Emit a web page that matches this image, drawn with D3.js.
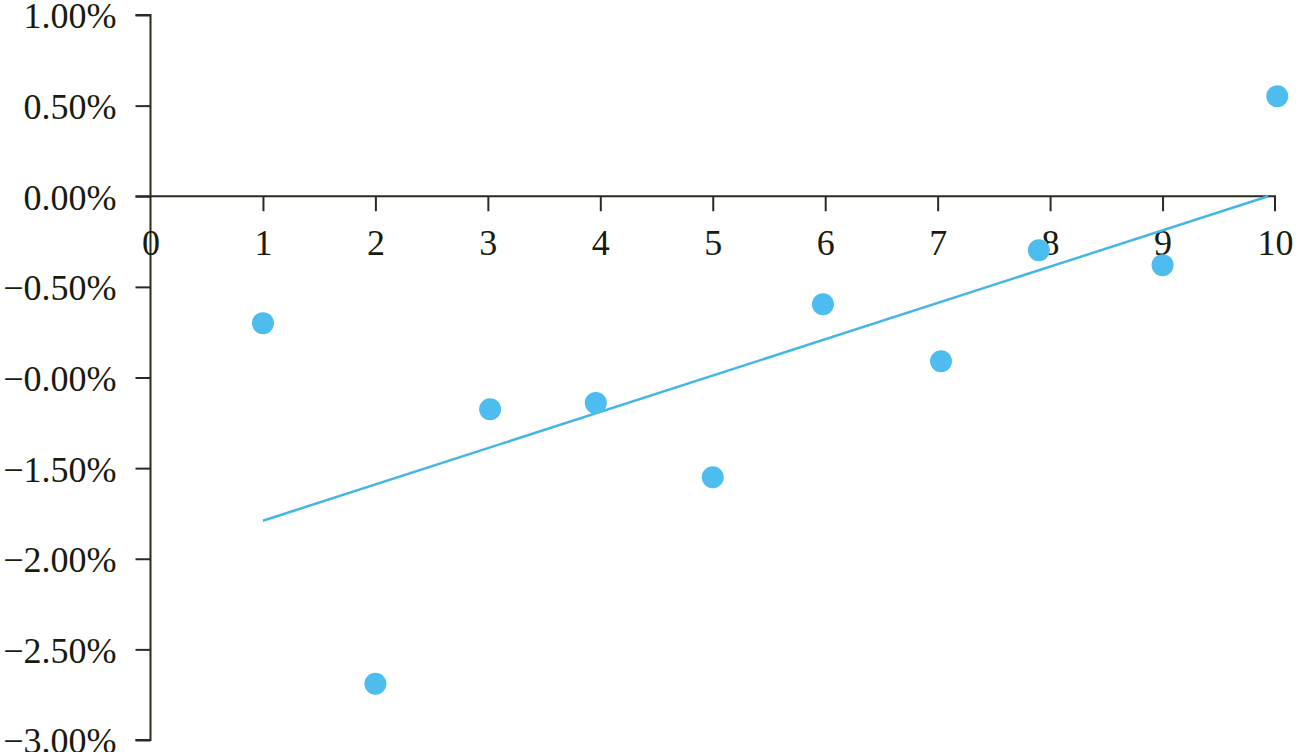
<!DOCTYPE html>
<html>
<head>
<meta charset="utf-8">
<script src="https://cdn.jsdelivr.net/npm/d3@7/dist/d3.min.js"></script>
<style>
  html, body { margin: 0; padding: 0; background: #ffffff; }
  svg { display: block; }
</style>
</head>
<body>
<svg id="chart" width="1296" height="752"></svg>
<script>
// ---- data ----
const xValues = [1, 2, 3.02, 3.96, 5, 5.98, 7.03, 7.9, 9, 10.02];
const yValues = [-0.70, -2.69, -1.175, -1.14, -1.55, -0.596, -0.91, -0.298, -0.38, 0.552];
const trendX = [1, 9.94];
const trendY = [-1.79, 0.0];
const xTicks = [0, 1, 2, 3, 4, 5, 6, 7, 8, 9, 10];
const xTickLabels = ["0", "1", "2", "3", "4", "5", "6", "7", "8", "9", "10"];
const yTicks = [1.0, 0.5, 0.0, -0.5, -1.0, -1.5, -2.0, -2.5, -3.0];
const yTickLabels = ["1.00%", "0.50%", "0.00%", "\u22120.50%", "\u22120.00%", "\u22121.50%", "\u22122.00%", "\u22122.50%", "\u22123.00%"];

// ---- layout ----
const svg = d3.select("#chart");
const axisColor = "#2b2b1d";
const textColor = "#1a1a0e";
const pointColor = "#4dbcee";
const lineColor = "#45b6e4";
const fontFamily = "'Liberation Serif', 'Times New Roman', serif";

const x = d3.scaleLinear().domain([0, 10]).range([150.5, 1275]);
const y = d3.scaleLinear().domain([-3, 1]).range([740, 15]);

// y axis
const yAxis = d3.axisLeft(y).tickValues(yTicks)
  .tickFormat((d, i) => yTickLabels[i]).tickSize(15).tickPadding(19);
const gy = svg.append("g").attr("transform", `translate(${x(0)},0)`).call(yAxis);
gy.select(".domain").attr("d", `M-15,${y(1)}H0V${y(-3)}H-15`)
  .attr("stroke", axisColor).attr("stroke-width", 2).attr("fill", "none");
gy.selectAll(".tick line").attr("stroke", axisColor).attr("stroke-width", 2);
gy.selectAll(".tick text")
  .attr("fill", textColor)
  .style("font-family", fontFamily)
  .style("font-size", "36px")
  .attr("dy", "0.36em");

// x axis at zero
const xAxis = d3.axisBottom(x).tickValues(xTicks)
  .tickFormat((d, i) => xTickLabels[i]).tickSize(15).tickPadding(18);
const gx = svg.append("g").attr("transform", `translate(0,${y(0)})`).call(xAxis);
gx.select(".domain").attr("d", `M${x(0) - 15},0H${x(10)}V15`)
  .attr("stroke", axisColor).attr("stroke-width", 2).attr("fill", "none");
gx.selectAll(".tick line").attr("stroke", axisColor).attr("stroke-width", 2)
  .filter(d => d === 0 || d === 10).remove();
gx.selectAll(".tick text")
  .attr("fill", textColor)
  .style("font-family", fontFamily)
  .style("font-size", "36px");

// trend line
const trend = trendX.map((d, i) => [d, trendY[i]]);
svg.append("path")
  .datum(trend)
  .attr("d", d3.line().x(d => x(d[0])).y(d => y(d[1])))
  .attr("stroke", lineColor)
  .attr("stroke-width", 2.5)
  .attr("fill", "none");

// points
const pts = xValues.map((d, i) => ({ x: d, y: yValues[i] }));
svg.append("g").selectAll("circle")
  .data(pts)
  .join("circle")
  .attr("cx", d => x(d.x))
  .attr("cy", d => y(d.y))
  .attr("r", 11)
  .attr("fill", pointColor);
</script>
</body>
</html>
